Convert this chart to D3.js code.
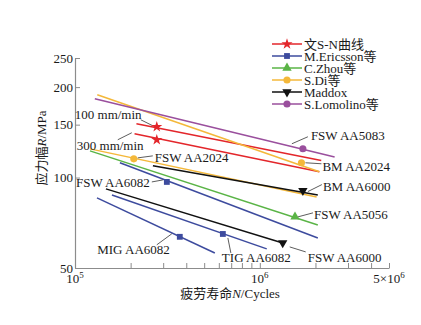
<!DOCTYPE html>
<html><head><meta charset="utf-8">
<script src="https://cdn.jsdelivr.net/npm/d3@7"></script>
<style>
html,body{margin:0;padding:0;background:#fff;}
text{font-family:"Liberation Serif","Times New Roman","Noto Sans CJK SC",serif;fill:#1a1a1a;}
</style></head>
<body>
<svg id="chart" width="421" height="325"></svg>
<script>
// ---- data ----
const seriesNames = ["文S-N曲线", "M.Ericsson等", "C.Zhou等", "S.Di等", "Maddox", "S.Lomolino等"];
const curveLabels = ["100 mm/min", "300 mm/min", "FSW AA6082", "TIG AA6082", "MIG AA6082",
  "FSW AA5056", "BM AA2024", "FSW AA2024", "BM AA6000", "FSW AA6000", "FSW AA5083"];
const curveSeries = [0, 0, 1, 1, 1, 2, 3, 3, 4, 4, 5];
const curveN = [[2.15e5, 2.15e6], [2.1e5, 2.1e6], [1.75e5, 2.06e6], [1.585e5, 1.09e6], [1.315e5, 5.71e5],
  [1.205e5, 2.06e6], [1.32e5, 2.1e6], [1.205e5, 2.03e6], [2.64e5, 2.06e6], [1.47e5, 1.33e6], [1.28e5, 2.54e6]];
const curveS = [[151, 114], [140, 104.5], [112, 62.9], [87.5, 57.9], [85.6, 56.1],
  [122.7, 69.5], [188.6, 104.5], [124.6, 86.2], [109.4, 87.5], [91.7, 60.6], [183, 117]];
const markerN = [2.77e5, 2.77e5, 3.14e5, 6.31e5, 3.69e5, 1.55e6, 1.68e6, 2.08e5, 1.71e6, 1.33e6, 1.71e6];
const markerS = [147.6, 133.6, 96.7, 64.9, 63.5, 74, 112, 115.4, 90.5, 60.6, 124.7];
const yTicks = [50, 100, 150, 200, 250];
const xMinorTicks = [2e5, 3e5, 4e5, 5e5, 6e5, 7e5, 8e5, 9e5, 1e6, 2e6, 3e6, 4e6, 5e6];
const xTickLabels = [{v: 1e5, base: "10", sup: "5"}, {v: 1e6, base: "10", sup: "6"}, {v: 5e6, base: "5×10", sup: "6"}];

// ---- styles / layout ----
const colors = ["#e3262b", "#3d4b9e", "#5ab446", "#f4b83a", "#111111", "#9a4f9d"];
const symbols = [d3.symbolStar, d3.symbolSquare, d3.symbolTriangle, d3.symbolCircle, d3.symbolTriangle, d3.symbolCircle];
const symSizes = [38, 34, 38, 40, 38, 40];
const symRot = [0, 0, 0, 0, 180, 0];
// label offsets relative to marker: [dx, dy, anchor, lx1, ly1, lx2, ly2]
const labelLayout = [
  [-82, -12, "start", -16, -7, -4, -1],
  [-80, 6, "start", -39, 0, -25, -7],
  [-17, 1, "end", -15, 0, -4, -2],
  [-1, 24, "start", 5, 4, 8, 19],
  [-10, 13, "end", -23, 8, -8, -3],
  [19, -2, "start", 3, 0, 18, -4],
  [21, 4, "start", 4, 0, 20, 1],
  [21, -1, "start", 4, -1, 19, -3],
  [20, -4, "start", 5, 1, 19, -6],
  [25, 15, "start", 7, 4, 23, 9],
  [8, -13, "start", -11, -5, 5, -12]
];

const svg = d3.select("#chart");
svg.append("rect").attr("width", 421).attr("height", 325).attr("fill", "#fff");

const x = d3.scaleLog().domain([1e5, 5e6]).range([75, 389]);
const y = d3.scaleLog().domain([50, 250]).range([268, 58]);
const axisColor = "#8c8c8c";

// x axis
const gx = svg.append("g").attr("transform", `translate(0,${y(50)})`)
  .call(d3.axisBottom(x).tickValues(xMinorTicks).tickSize(-5).tickSizeOuter(0).tickFormat(""));
gx.select(".domain").attr("stroke", axisColor).attr("stroke-width", 1.2);
gx.selectAll(".tick line").attr("stroke", axisColor).attr("stroke-width", 1);

xTickLabels.forEach(t => {
  const tx = svg.append("text").attr("x", x(t.v)).attr("y", 283).attr("text-anchor", "middle")
    .style("font-size", "13px");
  tx.append("tspan").text(t.base);
  tx.append("tspan").attr("dy", -5).style("font-size", "9px").text(t.sup);
});

// y axis
const gy = svg.append("g").attr("transform", `translate(${x(1e5)},0)`)
  .call(d3.axisLeft(y).tickValues(yTicks).tickSize(-5).tickSizeOuter(0).tickFormat(d3.format("d")).tickPadding(3));
gy.select(".domain").attr("stroke", axisColor).attr("stroke-width", 1.2);
gy.selectAll(".tick line").attr("stroke", axisColor).attr("stroke-width", 1);
gy.selectAll(".tick text").style("font-size", "13px").attr("fill", "#1a1a1a")
  .style("font-family", "'Liberation Serif', serif").attr("x", -2);

// axis titles
const xt = svg.append("text").attr("x", 230).attr("y", 298).attr("text-anchor", "middle").style("font-size", "13px");
xt.append("tspan").text("疲劳寿命");
xt.append("tspan").style("font-style", "italic").text("N");
xt.append("tspan").text("/Cycles");

const yt = svg.append("text").attr("transform", "translate(46,148) rotate(-90)").attr("text-anchor", "middle").style("font-size", "13px");
yt.append("tspan").text("应力幅");
yt.append("tspan").style("font-style", "italic").text("R");
yt.append("tspan").text("/MPa");

// curves
const line = d3.line().x(d => x(d[0])).y(d => y(d[1]));
curveN.forEach((ns, i) => {
  const pts = ns.map((n, k) => [n, curveS[i][k]]);
  svg.append("path").attr("d", line(pts)).attr("fill", "none")
    .attr("stroke", colors[curveSeries[i]]).attr("stroke-width", 1.5);
});

// leaders + labels
markerN.forEach((n, i) => {
  const mx = x(n), my = y(markerS[i]);
  const L = labelLayout[i];
  svg.append("line").attr("x1", mx + L[3]).attr("y1", my + L[4]).attr("x2", mx + L[5]).attr("y2", my + L[6])
    .attr("stroke", "#333").attr("stroke-width", 0.8);
  svg.append("text").attr("x", mx + L[0]).attr("y", my + L[1]).attr("text-anchor", L[2])
    .attr("dominant-baseline", "central").style("font-size", "13px").text(curveLabels[i]);
});

// markers
function sym(si) { return d3.symbol().type(symbols[si]).size(symSizes[si])(); }
markerN.forEach((n, i) => {
  const si = curveSeries[i];
  svg.append("path").attr("d", sym(si))
    .attr("transform", `translate(${x(n)},${y(markerS[i])}) rotate(${symRot[si]})`)
    .attr("fill", colors[si]);
});

// legend
const lg = svg.append("g");
seriesNames.forEach((name, i) => {
  const ly = 44 + 12 * i;
  lg.append("line").attr("x1", 272).attr("x2", 302).attr("y1", ly).attr("y2", ly)
    .attr("stroke", colors[i]).attr("stroke-width", 1.5);
  lg.append("path").attr("d", sym(i)).attr("transform", `translate(287,${ly}) rotate(${symRot[i]})`).attr("fill", colors[i]);
  lg.append("text").attr("x", 304).attr("y", ly).attr("dominant-baseline", "central").style("font-size", "13px").text(name);
});
</script>
</body></html>
